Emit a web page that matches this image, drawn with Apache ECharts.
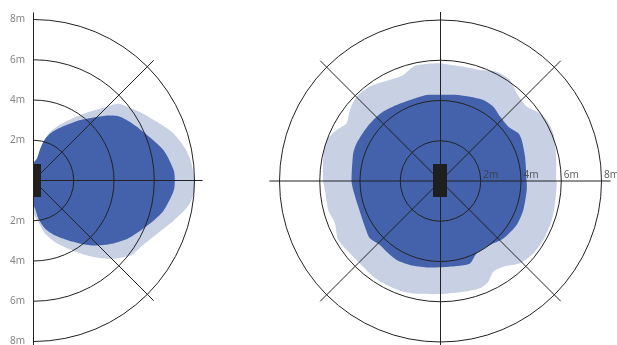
<!DOCTYPE html>
<html><head><meta charset="utf-8">
<script src="https://cdn.jsdelivr.net/npm/echarts@6/dist/echarts.min.js"></script>
<style>html,body{margin:0;padding:0;background:#fff}#c{width:617px;height:345px}</style>
</head><body><div id="c"></div>
<script>
// ring distances (m) and their labels
const ringValues = [2, 4, 6, 8];
const ringLabels = ['2m', '4m', '6m', '8m'];

// left half-plot outlines: [radius m, angle deg (math, 0 = right)]
const leftOuter = [[0.85,90],[1.1,80],[1.79,76.7],[2.44,72.2],[3.0,65.6],[3.61,58.2],[4.36,51.2],[5.1,45.6],[5.69,42.1],[6.1,35.5],[6.4,31],[6.95,23.5],[7.35,18.4],[7.7,12],[7.87,7.3],[8.0,0],[8.0,-4.7],[7.75,-9.9],[7.25,-15.9],[6.69,-23.3],[6.3,-31],[6.1,-37.5],[5.5,-45],[4.89,-51.2],[4.36,-56.6],[3.81,-62.9],[3.25,-70.6],[2.71,-77.6],[2.09,-83.2],[1.75,-88],[1.6,-90]];
const leftInner = [[0.85,90],[1.09,81.3],[1.61,78],[2.15,74.3],[2.57,69.2],[3.15,60],[3.73,53.1],[4.39,45.7],[4.93,40.9],[5.3,37.1],[5.62,31],[5.98,23.6],[6.64,13],[6.99,4.1],[7.02,0],[6.99,-4.1],[6.64,-13],[6.3,-18.4],[5.81,-26.2],[5.5,-31.7],[5.0,-38.9],[4.45,-46.5],[3.96,-52.7],[3.45,-59.7],[2.94,-68.5],[2.47,-76.4],[1.92,-82.6],[1.41,-86.6],[1.2,-90]];

// right full-plot outlines: [radius m, angle deg]
const rightOuter = [[5.75,0],[5.87,11.9],[6.09,22.9],[6.09,29.9],[5.98,34.2],[5.66,40.8],[5.78,49],[6.09,55.5],[6.11,62.8],[5.86,70.4],[5.79,78.7],[5.81,87],[5.85,90],[5.86,96.7],[5.84,103.4],[5.58,109.3],[5.62,116.6],[5.86,126.8],[5.91,134.8],[5.72,141.9],[5.48,148.4],[5.75,153.8],[6.01,160.2],[5.95,168.3],[5.83,180],[5.76,184.5],[5.76,194.5],[5.65,201.9],[5.87,210],[5.76,218.6],[5.74,228],[5.81,234.9],[5.82,242.6],[5.8,251.4],[5.7,259.7],[5.62,270],[5.62,281.6],[5.68,290.2],[5.54,295.4],[5.22,300.2],[5.28,306.2],[5.69,314],[5.85,322],[5.89,330.1],[5.86,340.7],[5.8,349],[5.78,358.9]];
const rightInner = [[4.28,0],[4.37,16],[4.52,26.8],[4.54,31.5],[4.32,38.7],[4.36,47.2],[4.53,54.6],[4.55,62.2],[4.44,70.7],[4.35,79.3],[4.28,90],[4.33,99.1],[4.3,110.6],[4.36,120],[4.47,129.5],[4.51,137.8],[4.53,146],[4.57,155.8],[4.55,162.4],[4.42,180],[4.36,185.9],[4.28,197.4],[4.39,211.2],[4.52,219.1],[4.38,226.6],[4.42,232.7],[4.49,241],[4.44,250],[4.35,260.9],[4.29,270],[4.3,280.8],[4.35,289.7],[4.02,296.6],[4.02,307.7],[4.23,317.6],[4.37,330],[4.36,340.7],[4.31,354]];

// reference lines (spokes): pairs of [radius, angle]
const leftSpokes = [[[8.35,90],[8.35,-90]], [[0,0],[8.4,0]], [[0,0],[8.45,45]], [[0,0],[8.45,-45]]];
const rightSpokes = [[[8.45,0],[8.5,180]], [[8.4,90],[8.4,270]], [[8.45,45],[8.45,225]], [[8.45,135],[8.45,315]]];

const LIGHT = '#c8d0e4', DARK = '#4362ab', INK = '#222';

const chart = echarts.init(document.getElementById('c'), null, {renderer: 'canvas'});

function blob(pi, pts, color, z) {
  return {
    type: 'custom', coordinateSystem: 'polar', polarIndex: pi, z: z, silent: true, animation: false,
    data: [[0, 0]],
    renderItem: (params, api) => ({
      type: 'polygon',
      shape: {points: pts.map(p => api.coord(p)), smooth: 0.25},
      style: {fill: color}
    })
  };
}
function spokes(pi, list) {
  return {
    type: 'custom', coordinateSystem: 'polar', polarIndex: pi, z: 6, silent: true, animation: false,
    data: list.map((seg, i) => [0, i]),
    renderItem: (params, api) => {
      const seg = list[params.dataIndex];
      const a = api.coord(seg[0]), b = api.coord(seg[1]);
      return {type: 'line', shape: {x1: a[0], y1: a[1], x2: b[0], y2: b[1]}, style: {stroke: INK, lineWidth: 1}};
    }
  };
}
function sensor(pi, dx, w) {
  return {
    type: 'custom', coordinateSystem: 'polar', polarIndex: pi, z: 10, silent: true, animation: false,
    data: [[0, 0]],
    renderItem: (params, api) => {
      const c = api.coord([0, 0]);
      return {type: 'rect', shape: {x: Math.round(c[0] + dx), y: Math.round(c[1] - 17), width: w, height: 33}, style: {fill: '#1f1f1f'}};
    }
  };
}

const hiddenAngle = {axisLine: {show: false}, axisTick: {show: false}, axisLabel: {show: false}, splitLine: {show: false}};
const radiusCfg = pi => ({
  polarIndex: pi, type: 'value', min: 0, max: 8, interval: 2, z: 5,
  axisLine: {show: false}, axisTick: {show: false}, axisLabel: {show: false},
  splitLine: {show: true, lineStyle: {color: INK, width: 1}}
});

chart.setOption({
  animation: false,
  polar: [
    {center: [33.5, 180.5], radius: 161},
    {center: [440.5, 181], radius: 161}
  ],
  angleAxis: [
    Object.assign({polarIndex: 0, type: 'value', min: -90, max: 90, startAngle: -90, endAngle: 90, clockwise: false}, hiddenAngle),
    Object.assign({polarIndex: 1, type: 'value', min: 0, max: 360, startAngle: 0, clockwise: false}, hiddenAngle)
  ],
  radiusAxis: [radiusCfg(0), radiusCfg(1)],
  series: [
    blob(0, leftOuter, LIGHT, 1),
    blob(0, leftInner, DARK, 2),
    blob(1, rightOuter, LIGHT, 1),
    blob(1, rightInner, DARK, 2),
    spokes(0, leftSpokes),
    spokes(1, rightSpokes),
    sensor(0, 0, 7),
    sensor(1, -7.5, 14),
    {
      type: 'scatter', coordinateSystem: 'polar', polarIndex: 0, z: 10, silent: true, animation: false,
      symbolSize: 1, itemStyle: {color: 'rgba(0,0,0,0)'},
      data: ringValues.flatMap((v, i) => [{value: [v, 90], name: ringLabels[i]}, {value: [v, -90], name: ringLabels[i]}]),
      label: {show: true, position: 'left', distance: 8, formatter: '{b}', fontFamily: 'Noto Sans', fontSize: 10, color: '#666'}
    },
    {
      type: 'scatter', coordinateSystem: 'polar', polarIndex: 1, z: 10, silent: true, animation: false,
      symbolSize: 1, itemStyle: {color: 'rgba(0,0,0,0)'},
      data: ringValues.map((v, i) => ({value: [v, 0], name: ringLabels[i]})),
      label: {show: true, position: 'right', distance: 2, offset: [0, -6], formatter: '{b}', fontFamily: 'Noto Sans', fontSize: 10, color: '#3a3a3a'}
    }
  ]
});
</script>
</body></html>
